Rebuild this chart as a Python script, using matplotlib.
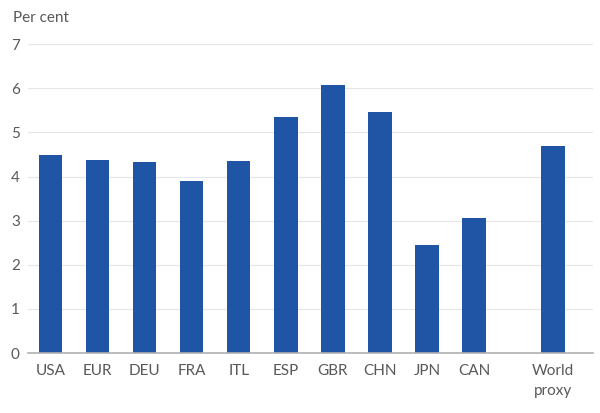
import numpy as np
import matplotlib.pyplot as plt

plt.rcParams['font.family'] = ['Lato', 'DejaVu Sans']

categories = ["USA", "EUR", "DEU", "FRA", "ITL", "ESP", "GBR", "CHN", "JPN", "CAN", "World\nproxy"]
values = [4.49, 4.37, 4.34, 3.90, 4.35, 5.34, 6.08, 5.47, 2.46, 3.06, 4.69]
positions = [0, 1, 2, 3, 4, 5, 6, 7, 8, 9, 10.67]

bar_color = "#2055a5"
text_color = "#595959"

fig = plt.figure(figsize=(6, 4.13), dpi=100)
ax = fig.add_axes([0.047, 0.145, 0.941, 0.748])

ax.bar(positions, values, width=0.5, color=bar_color, zorder=3)

ax.set_ylim(0, 7)
ax.set_xlim(-0.47, 11.52)
ax.set_yticks(range(0, 8))
ax.set_xticks(positions)
ax.set_xticklabels(categories, linespacing=1.55)
ax.grid(axis="y", color="#e6e6e6", linewidth=0.8, zorder=0)

for s in ["top", "right", "left"]:
    ax.spines[s].set_visible(False)
ax.spines["bottom"].set_color("#b0b0b0")
ax.spines["bottom"].set_linewidth(1.2)
ax.spines["bottom"].set_zorder(4)

ax.tick_params(axis="both", length=0, labelsize=11, colors=text_color)
ax.tick_params(axis="y", pad=6)
ax.tick_params(axis="x", pad=8)

fig.text(13 / 600, 1 - 18 / 413, "Per cent", fontsize=11, color=text_color, va="center", ha="left")

fig.savefig("out.png", dpi=100)
